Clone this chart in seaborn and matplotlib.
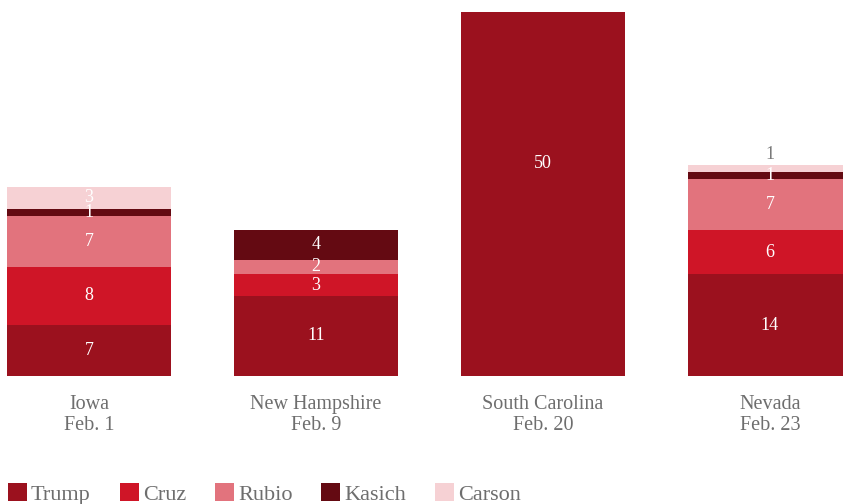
import matplotlib
matplotlib.use("Agg")
import matplotlib.pyplot as plt
import seaborn as sns
import pandas as pd
import numpy as np

states = ["Iowa\nFeb. 1", "New Hampshire\nFeb. 9", "South Carolina\nFeb. 20", "Nevada\nFeb. 23"]
candidates = ["Trump", "Cruz", "Rubio", "Kasich", "Carson"]
trump = [7, 11, 50, 14]
cruz = [8, 3, 0, 6]
rubio = [7, 2, 0, 7]
kasich = [1, 4, 0, 1]
carson = [3, 0, 0, 1]
colors = ["#9b111e", "#cf1527", "#e2737d", "#640a12", "#f6d1d4"]

series = [trump, cruz, rubio, kasich, carson]

sns.set_theme(style="white")
plt.rcParams['font.family'] = ['Liberation Serif', 'DejaVu Serif']

fig = plt.figure(figsize=(8.43, 5.04), dpi=100)
ax = fig.add_axes([0, 128/504, 1, 376/504])

bottom = np.zeros(len(states))
for name, vals, col in zip(candidates, series, colors):
    df = pd.DataFrame({"state": states, "v": vals})
    sns.barplot(data=df, x="state", y="v", color=col, bottom=bottom.copy(),
                width=0.722, ax=ax, saturation=1, errorbar=None, linewidth=0)
    bottom += np.array(vals)

ax.set_xlim(-0.392, 3.322)
ax.set_ylim(0, 51.65)

# value labels
for ci, cont in enumerate(ax.containers):
    for pi, p in enumerate(cont.patches):
        v = series[ci][pi]
        if v == 0:
            continue
        cx = p.get_x() + p.get_width() / 2
        if ci == 4 and pi == 3:
            ax.text(cx, p.get_y() + p.get_height() + 0.2, str(v), ha="center", va="bottom",
                    color="#7a7a7a", fontsize=13)
        else:
            h = p.get_height()
            cy = p.get_y() + (h * 0.585 if h >= 40 else h / 2)
            ax.text(cx, cy, str(v), ha="center", va="center", color="white", fontsize=13)

for s in ax.spines.values():
    s.set_visible(False)
ax.set_xlabel("")
ax.set_ylabel("")
ax.set_yticks([])
ax.tick_params(axis="x", length=0, pad=14, labelsize=14.5, labelcolor="#6e6e6e")
for t in ax.get_xticklabels():
    t.set_linespacing(1.1)
ax.grid(False)
if ax.get_legend() is not None:
    ax.get_legend().remove()

handles = [c for c in ax.containers]
leg = fig.legend(handles, candidates, loc="upper left", bbox_to_anchor=(0.004, 1 - 479/504),
                 ncol=5, frameon=False, fontsize=16, handlelength=0.86, handleheight=0.86,
                 handletextpad=0.18, columnspacing=1.3, borderaxespad=0, borderpad=0.2,
                 labelcolor="#6e6e6e")

fig.savefig("out.png", dpi=100)
